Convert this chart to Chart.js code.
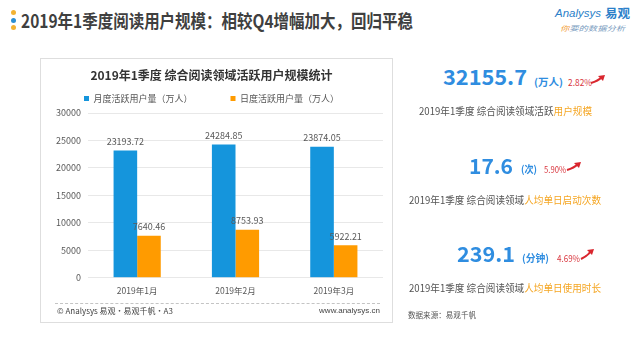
<!DOCTYPE html>
<html><head><meta charset="utf-8">
<script src="https://cdn.jsdelivr.net/npm/chart.js@4.4.1/dist/chart.umd.min.js"></script>
<style>
html,body{margin:0;padding:0;background:#fff;}
body{width:641px;height:337px;position:relative;overflow:hidden;font-family:'Noto Sans CJK SC','Microsoft YaHei',sans-serif;}
.t{position:absolute;white-space:nowrap;transform-origin:0 50%;line-height:1;}
.dot{position:absolute;width:5px;height:5px;border-radius:50%;}
#box{position:absolute;left:40px;top:58px;width:351px;height:263px;border:1px solid #dedede;}
#cv{position:absolute;left:40px;top:58px;}
#dash{position:absolute;left:55px;top:303px;width:325px;border-top:1px dashed #c4c4c4;}
</style></head><body>
<div class="dot" style="left:11px;top:10px;background:#f2b233"></div>
<div class="dot" style="left:11px;top:18px;background:#2b8fd4"></div>
<div class="dot" style="left:11px;top:25px;background:#f2b233"></div>
<div id="box"></div>
<canvas id="cv" width="353" height="265"></canvas>
<div id="dash"></div>
<script>
// ---- data ----
const categories = ['2019年1月', '2019年2月', '2019年3月'];
const monthlyActive = [23193.72, 24284.85, 23874.05];
const dailyActive = [7640.46, 8753.93, 5922.21];
const seriesNames = ['月度活跃用户量（万人）', '日度活跃用户量（万人）'];
const yMin = 0, yMax = 30000, yStep = 5000;
const chartTitle = '2019年1季度 综合阅读领域活跃用户规模统计';
const pageTitle = '2019年1季度阅读用户规模：相较Q4增幅加大，回归平稳';
const kpiValues = ['32155.7', '17.6', '239.1'];
const kpiUnits = ['(万人)', '(次)', '(分钟)'];
const kpiGrowth = ['2.82%', '5.90%', '4.69%'];
const kpiDescPrefix = ['2019年1季度 综合阅读领域活跃', '2019年1季度 综合阅读领域', '2019年1季度 综合阅读领域'];
const kpiDescHighlight = ['用户规模', '人均单日启动次数', '人均单日使用时长'];

const BLUE = '#1595dc', ORANGE = '#ff9b00';
const FONT = "'Noto Sans CJK SC','Microsoft YaHei',sans-serif";

function place(html, left, cy, width, size, css) {
  const s = document.createElement('span');
  s.className = 't';
  s.innerHTML = html;
  s.style.fontSize = size + 'px';
  s.style.left = left + 'px';
  s.style.top = (cy - size / 2) + 'px';
  Object.assign(s.style, css || {});
  document.body.appendChild(s);
  if (width) {
    const w = s.getBoundingClientRect().width;
    s.style.transform = 'scaleX(' + (width / w) + ')';
  }
  return s;
}
function arrow(x1, y1, x2, y2) {
  const ns = 'http://www.w3.org/2000/svg';
  const svg = document.createElementNS(ns, 'svg');
  svg.setAttribute('width', 641); svg.setAttribute('height', 337);
  svg.style.position = 'absolute'; svg.style.left = '0'; svg.style.top = '0';
  const mx = (x1 + x2) / 2, my = (y1 + y2) / 2 + 2;
  const p = document.createElementNS(ns, 'path');
  p.setAttribute('d', `M${x1} ${y1} Q${mx} ${my} ${x2 - 3} ${y2 + 2}`);
  p.setAttribute('stroke', '#d9262e'); p.setAttribute('stroke-width', '2'); p.setAttribute('fill', 'none');
  const h = document.createElementNS(ns, 'polygon');
  h.setAttribute('points', `${x2} ${y2} ${x2 - 7} ${y2 + 1} ${x2 - 2} ${y2 + 6}`);
  h.setAttribute('fill', '#d9262e');
  svg.appendChild(p); svg.appendChild(h);
  document.body.appendChild(svg);
}

// page title
place(pageTitle, 21, 20, 392, 18, {fontWeight: 'bold', color: '#3f3f3f'});
// logo
place('Analysys', 555, 13.5, 46, 10, {fontStyle: 'italic', color: '#2b7fc9', fontFamily: "'Liberation Sans',sans-serif"});
place('易观', 605, 13, 25, 12, {fontWeight: 'bold', color: '#2b7fc9'});
place('<span style="color:#f29b2f">你</span>要的数据分析', 560, 28, 65, 7, {fontStyle: 'italic', color: '#7a9cc0'});

// footer of chart panel
place('© Analysys 易观·易观千帆·A3', 57, 311, 0, 8, {color: '#444'});
const wwwEl = place('www.analysys.cn', 0, 311, 0, 8, {color: '#444', fontFamily: "'Liberation Sans',sans-serif"});
wwwEl.style.left = (380 - wwwEl.getBoundingClientRect().width) + 'px';

// KPI panel
const kpiLayout = [
  {num: [443, 76, 84], unit: [534, 82, 29], pct: [568, 82, 24], arr: [591, 83, 605, 75], desc: [419, 111.5, 173]},
  {num: [469, 165, 44], unit: [521, 169, 16], pct: [544, 169, 22], arr: [567, 170, 581, 162], desc: [409, 200, 192]},
  {num: [457, 253, 58], unit: [522, 258, 27], pct: [557, 258, 23], arr: [581, 259, 594, 249], desc: [409, 288, 192]}
];
kpiValues.forEach((v, i) => {
  const L = kpiLayout[i];
  place(v, L.num[0], L.num[1], L.num[2], 21, {fontWeight: 'bold', color: '#2f8de0'});
  place(kpiUnits[i], L.unit[0], L.unit[1], L.unit[2], 10, {color: '#2f8de0', fontWeight: 'bold'});
  place(kpiGrowth[i], L.pct[0], L.pct[1], L.pct[2], 9, {color: '#d9363e'});
  arrow(L.arr[0], L.arr[1], L.arr[2], L.arr[3]);
  place(kpiDescPrefix[i] + '<span style="color:#f5a623">' + kpiDescHighlight[i] + '</span>',
        L.desc[0], L.desc[1], L.desc[2], 10.5, {color: '#555'});
});
place('数据来源：易观千帆', 408, 315, 68, 8, {color: '#555'});

// ---- chart ----
Chart.defaults.font.family = FONT;
const valueLabels = {
  id: 'valueLabels',
  afterDatasetsDraw(chart) {
    const ctx = chart.ctx;
    ctx.save();
    ctx.font = '9px ' + FONT;
    ctx.fillStyle = '#595959';
    ctx.textAlign = 'center';
    ctx.textBaseline = 'middle';
    chart.data.datasets.forEach((ds, i) => {
      chart.getDatasetMeta(i).data.forEach((el, j) => {
        ctx.fillText(ds.data[j].toFixed(2), el.x, el.y - 9);
      });
    });
    ctx.restore();
  }
};
new Chart(document.getElementById('cv'), {
  type: 'bar',
  data: {
    labels: categories,
    datasets: [
      {label: seriesNames[0], data: monthlyActive, backgroundColor: BLUE, categoryPercentage: 0.48, barPercentage: 1},
      {label: seriesNames[1], data: dailyActive, backgroundColor: ORANGE, categoryPercentage: 0.48, barPercentage: 1}
    ]
  },
  options: {
    responsive: false,
    animation: false,
    layout: {padding: {top: -40, right: 10, bottom: 19, left: 0}},
    plugins: {
      title: {display: true, text: chartTitle, color: '#333', font: {size: 12, weight: 'bold'}, padding: {top: 49.8, bottom: -26.2}},
      legend: {display: true, labels: {boxWidth: 5, boxHeight: 5, padding: 38, color: '#555', font: {size: 9}}},
      tooltip: {enabled: false}
    },
    scales: {
      x: {
        grid: {display: false, drawTicks: false},
        border: {display: false},
        ticks: {color: '#595959', font: {size: 8.5}, padding: 8}
      },
      y: {
        min: yMin, max: yMax,
        ticks: {stepSize: yStep, color: '#595959', font: {size: 9}, padding: 7, callback: v => String(v)},
        grid: {color: '#e8e8e8', drawTicks: false},
        border: {display: false},
        afterFit(s) { s.width = 48; }
      }
    }
  },
  plugins: [valueLabels]
});
</script>
</body></html>
